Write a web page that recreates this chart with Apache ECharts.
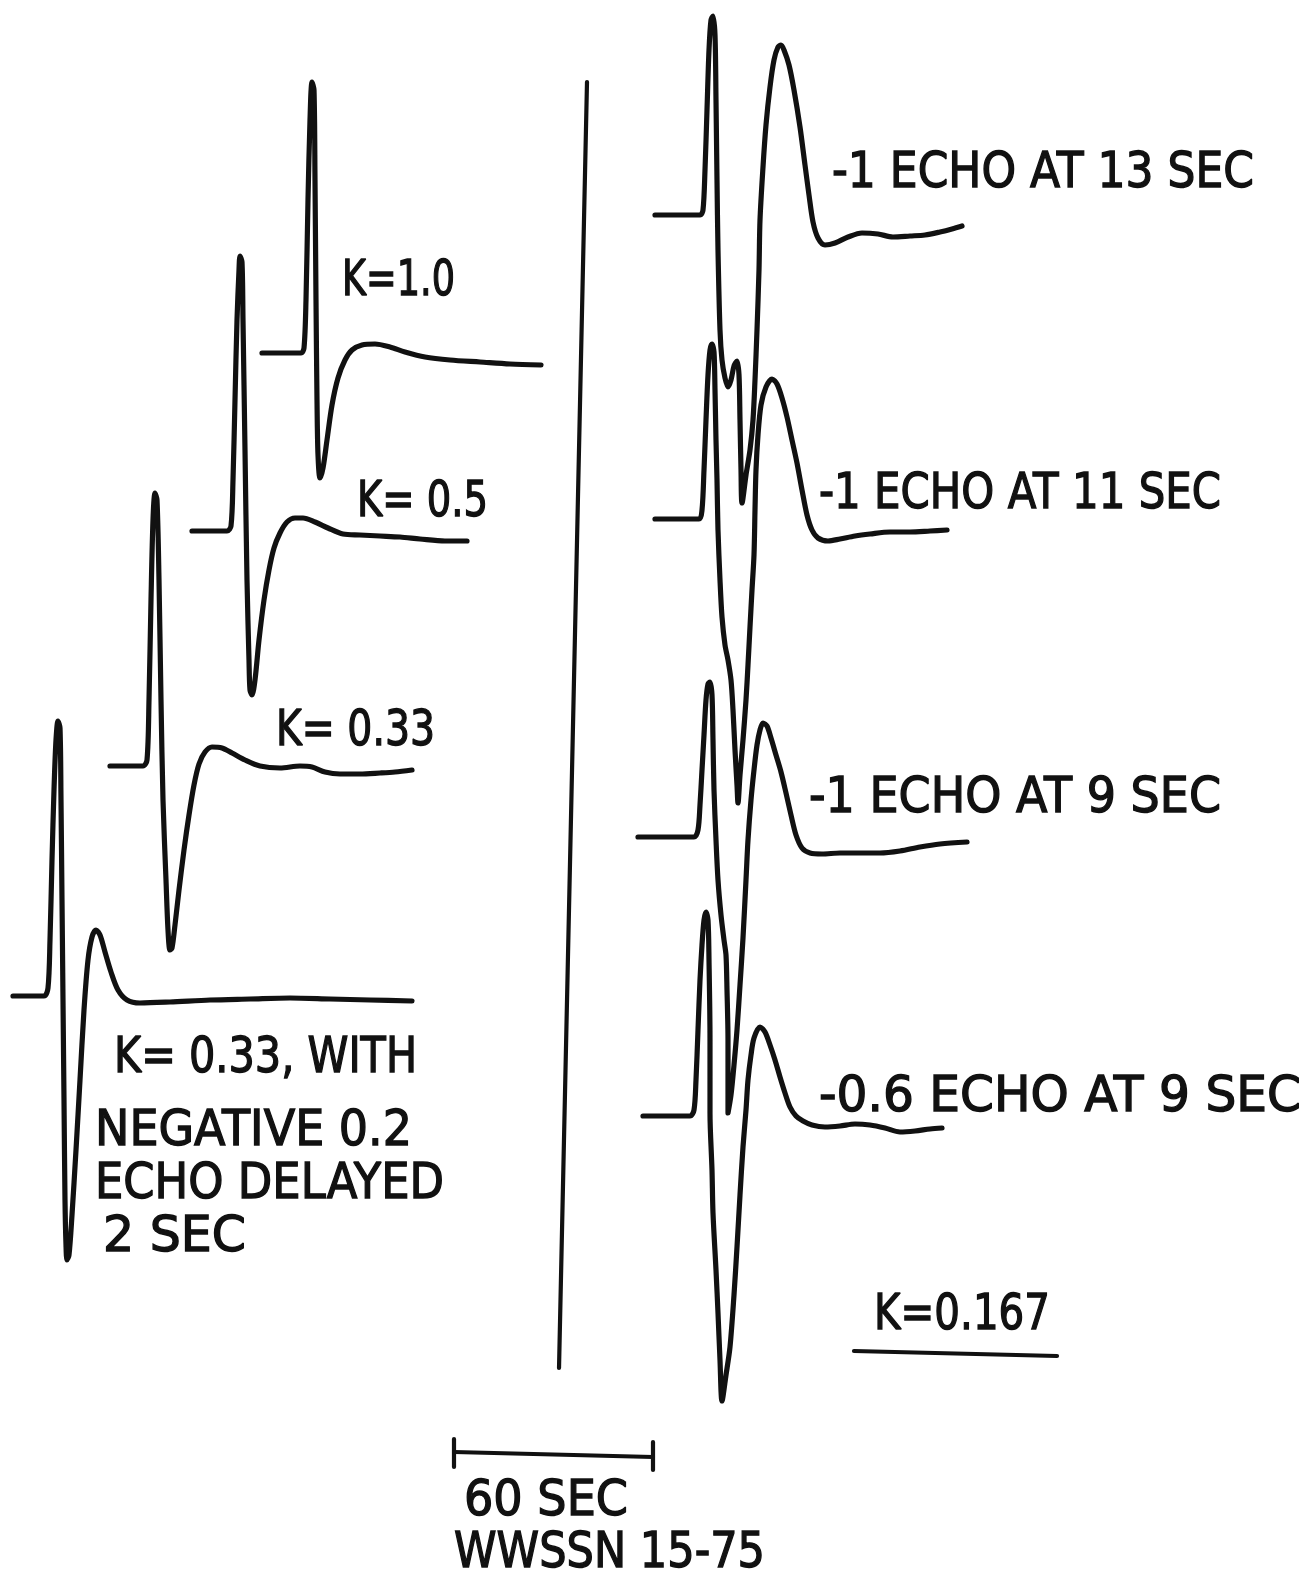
<!DOCTYPE html>
<html>
<head>
<meta charset="utf-8">
<script src="https://cdn.jsdelivr.net/npm/echarts@6/dist/echarts.min.js"></script>
<style>
html,body{margin:0;padding:0;background:#fff;}
#chart{width:1308px;height:1575px;}
</style>
</head>
<body>
<div id="chart"></div>
<script>
// ---------- DATA (in figure units) ----------
const traceK10 = [[262,353],[301,353],[304,348],[306,300],[308,200],[310,120],[312,82],[314,90],[315,180],[316,300],[317,400],[318,455],[320,478],[323,468],[327,440],[332,405],[338,378],[345,360],[352,350],[362,345],[375,344],[390,347],[405,352],[425,357],[450,360],[480,362],[510,364],[541,365]];
const traceK05 = [[192,531],[227,531],[231,526],[233,480],[235,400],[237,320],[239,270],[240,256],[242,262],[243,320],[245,450],[247,580],[249,660],[250,690],[252,695],[255,680],[259,640],[264,600],[269,570],[274,548],[280,533],[287,522],[295,518],[303,518],[315,522],[328,528],[343,534],[360,535],[380,536],[400,537],[420,539],[445,541],[467,541]];
const traceK033 = [[110,766],[143,766],[147,760],[149,700],[151,600],[153,520],[155,493],[157,500],[159,580],[161,700],[163,800],[166,880],[168,930],[170,950],[172,948],[175,925],[179,890],[184,850],[189,815],[194,785],[199,764],[205,752],[212,747],[222,748],[232,753],[245,760],[260,766],[280,768],[300,766],[312,767],[325,772],[340,774],[360,774],[380,773],[395,772],[412,770]];
const traceK033Echo = [[13,996],[44,996],[48,988],[50,940],[52,860],[54,790],[56,740],[58,721],[60,728],[61,800],[62,900],[63,1000],[64,1100],[65,1200],[66,1245],[67,1260],[69,1255],[72,1215],[76,1150],[80,1080],[84,1010],[88,960],[92,937],[96,930],[100,935],[105,952],[111,972],[118,990],[127,1000],[140,1003],[170,1002],[210,1000],[250,999],[290,998],[330,999],[370,1000],[412,1001]];
const traceEcho13 = [[655,215],[700,215],[703,210],[705,170],[707,110],[709,50],[711,20],[713,16],[715,35],[716,100],[717,180],[718,250],[720,330],[722,360],[725,378],[728,387],[731,380],[734,366],[737,361],[739,375],[740,420],[741,470],[742,503],[746,475],[750,450],[753,420],[755,380],[757,330],[759,270],[760,220],[763,167],[766,125],[770,87],[774,60],[778,47],[781,45],[784,50],[789,65],[794,90],[800,127],[805,165],[809,195],[813,222],[818,238],[825,245],[835,243],[848,237],[862,233],[878,234],[893,237],[910,236],[925,235],[940,232],[952,229],[962,226]];
const traceEcho11 = [[655,519],[699,519],[702,510],[704,470],[706,420],[708,375],[710,350],[712,344],[714,352],[715,390],[716,440],[717,480],[718,530],[720,580],[722,617],[725,645],[728,660],[731,680],[733,710],[735,750],[737,785],[738,803],[740,775],[743,740],[746,700],[748,665],[750,627],[752,590],[754,555],[755,510],[756,470],[758,435],[761,405],[766,387],[772,379],[777,384],[782,398],[787,417],[792,440],[797,463],[802,490],[807,515],[812,530],[818,538],[828,541],[840,539],[855,536],[870,534],[890,532],[910,532],[930,531],[947,530]];
const traceEcho9 = [[638,837],[694,837],[698,830],[700,805],[702,770],[704,735],[706,700],[708,684],[710,682],[712,695],[713,740],[714,790],[716,840],[718,880],[721,915],[724,940],[726,955],[727,990],[728,1040],[728,1080],[728,1113],[731,1095],[734,1065],[737,1030],[740,985],[743,938],[746,880],[748,840],[751,800],[754,770],[757,745],[760,730],[763,723],[767,726],[771,738],[776,755],[781,772],[786,793],[791,815],[796,835],[802,848],[810,853],[822,854],[840,853],[860,853],[880,853],[900,851],[920,847],[940,844],[967,842]];
const traceEcho06 = [[643,1116],[690,1116],[694,1110],[696,1080],[698,1030],[700,980],[702,945],[704,920],[706,912],[708,920],[709,960],[710,1040],[710,1113],[712,1170],[713,1213],[716,1270],[718,1313],[720,1360],[722,1401],[726,1375],[730,1347],[734,1295],[737,1247],[740,1195],[743,1147],[746,1110],[748,1080],[751,1055],[754,1038],[760,1027],[765,1032],[770,1045],[775,1060],[780,1077],[785,1093],[790,1107],[796,1116],[803,1121],[812,1125],[825,1127],[840,1126],[855,1124],[870,1125],[885,1128],[900,1132],[915,1131],[930,1129],[942,1128]];
const dividerLine = [[587,82],[559,1368]];
const scaleTickLeft = [[454,1439],[454,1467]];
const scaleBarLine = [[454,1452],[653,1457]];
const scaleTickRight = [[653,1442],[653,1470]];
const kUnderline = [[854,1351],[1057,1356]];

const labelTexts = ['K=1.0','K= 0.5','K= 0.33','K= 0.33, WITH','NEGATIVE 0.2','ECHO DELAYED','2 SEC',
  '-1 ECHO AT 13 SEC','-1 ECHO AT 11 SEC','-1 ECHO AT 9 SEC','-0.6 ECHO AT 9 SEC','K=0.167','60 SEC','WWSSN 15-75'];

// ---------- LAYOUT (pixel placement of labels: left, centre y, width) ----------
const labelLayout = [[342,282,113],[357,503,131],[276,732,159],[114,1059,303],[95,1132,317],[95,1185,349],[103,1238,143],
  [832,174,422],[819,495,402],[809,799,412],[819,1098,482],[874,1316,176],[464,1502,164],[454,1554,311]];

const FONT_SIZE = 50;
const FONT_FAMILY = '"DejaVu Sans"';
const measureCtx = document.createElement('canvas').getContext('2d');
measureCtx.font = FONT_SIZE + 'px ' + FONT_FAMILY;

const graphics = labelTexts.map((t, i) => {
  const [lx, cy, w] = labelLayout[i];
  const mw = measureCtx.measureText(t).width;
  return {
    type: 'text', x: lx, y: cy, scaleX: w / mw, silent: true,
    style: { text: t, font: FONT_SIZE + 'px ' + FONT_FAMILY, fill: '#111', stroke: '#111', lineWidth: 1.4,
             align: 'left', verticalAlign: 'middle' }
  };
});

const traceStyle = { color: '#111', width: 5.2, cap: 'round', join: 'round' };
function traceSeries(data, smooth, width) {
  return {
    type: 'line', data: data, showSymbol: false, symbol: 'none', smooth: smooth,
    lineStyle: Object.assign({}, traceStyle, width ? { width: width } : {}),
    silent: true, animation: false
  };
}

const chart = echarts.init(document.getElementById('chart'), null, { renderer: 'canvas' });
chart.setOption({
  backgroundColor: '#ffffff',
  animation: false,
  grid: { left: 0, right: 0, top: 0, bottom: 0 },
  xAxis: { type: 'value', min: 0, max: 1308, show: false },
  yAxis: { type: 'value', min: 0, max: 1575, inverse: true, show: false },
  series: [
    traceSeries(traceK10, 0.3),
    traceSeries(traceK05, 0.3),
    traceSeries(traceK033, 0.3),
    traceSeries(traceK033Echo, 0.3),
    traceSeries(traceEcho13, 0.3),
    traceSeries(traceEcho11, 0.3),
    traceSeries(traceEcho9, 0.3),
    traceSeries(traceEcho06, 0.3),
    traceSeries(dividerLine, false, 4.2),
    traceSeries(scaleTickLeft, false, 4.2),
    traceSeries(scaleBarLine, false, 4.2),
    traceSeries(scaleTickRight, false, 4.2),
    traceSeries(kUnderline, false, 4.2)
  ],
  graphic: graphics
});
</script>
</body>
</html>
